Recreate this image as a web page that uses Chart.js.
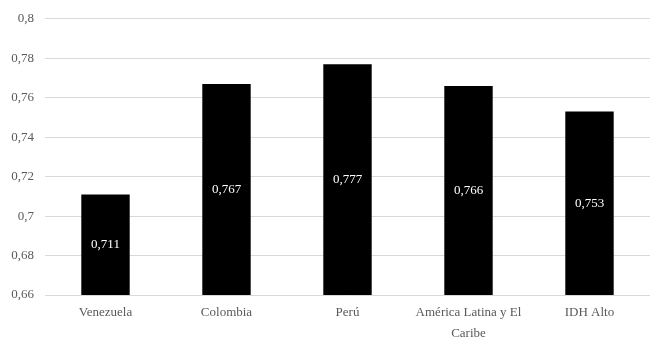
<!DOCTYPE html>
<html>
<head>
<meta charset="utf-8">
<script src="https://cdn.jsdelivr.net/npm/chart.js@4"></script>
<style>
  html, body { margin: 0; padding: 0; background: #fff; }
  #wrap { width: 651px; height: 340px; }
</style>
</head>
<body>
<div id="wrap"><canvas id="idhChart" width="651" height="340"></canvas></div>
<script>
// ── Data ─────────────────────────────────────────────────
const categories = ['Venezuela', 'Colombia', 'Perú', ['América Latina y El', 'Caribe'], 'IDH Alto'];
const idhValues  = [0.711, 0.767, 0.777, 0.766, 0.753];
const yMin = 0.66, yMax = 0.8, yStep = 0.02;

const FONT = "'Liberation Serif', 'Times New Roman', serif";

// decimal comma, no trailing zeros (0,7 / 0,72)
const fmt = v => String(Number(v.toFixed(3))).replace('.', ',');

// ── Value labels centred inside each bar ─────────────────
const barLabels = {
    id: 'barLabels',
    afterDatasetsDraw(chart) {
        const ctx   = chart.ctx;
        const meta  = chart.getDatasetMeta(0);
        const yAxis = chart.scales.y;
        const base  = yAxis.getPixelForValue(yMin);
        ctx.save();
        ctx.font = '13px ' + FONT;
        ctx.fillStyle = '#ffffff';
        ctx.textAlign = 'center';
        ctx.textBaseline = 'middle';
        meta.data.forEach((bar, i) => {
            const top = yAxis.getPixelForValue(idhValues[i]);
            ctx.fillText(fmt(idhValues[i]), bar.x, (top + base) / 2);
        });
        ctx.restore();
    }
};

new Chart(document.getElementById('idhChart'), {
    type: 'bar',
    data: {
        labels: categories,
        datasets: [{
            data: idhValues,
            backgroundColor: '#000000',
            borderWidth: 0,
            barPercentage: 0.4,
            categoryPercentage: 1.0,
        }],
    },
    options: {
        responsive: false,
        animation: false,
        layout: { padding: { top: 12, right: 1, left: 0, bottom: 0 } },
        plugins: {
            legend: { display: false },
            tooltip: { enabled: false },
        },
        scales: {
            x: {
                grid: { display: false, drawTicks: false },
                border: { display: false },
                ticks: {
                    color: '#595959',
                    font: { family: FONT, size: 13, lineHeight: 1.55 },
                    padding: 8,
                    maxRotation: 0,
                    autoSkip: false,
                },
                afterFit(scale) { scale.height = 45; },
            },
            y: {
                min: yMin,
                max: yMax,
                grid: { color: '#d9d9d9', lineWidth: 1, drawTicks: false },
                border: { display: false },
                ticks: {
                    stepSize: yStep,
                    color: '#595959',
                    font: { family: FONT, size: 13 },
                    padding: 11,
                    callback: v => fmt(v),
                },
                afterFit(scale) { scale.width = 45; },
            },
        },
    },
    plugins: [barLabels],
});
</script>
</body>
</html>
